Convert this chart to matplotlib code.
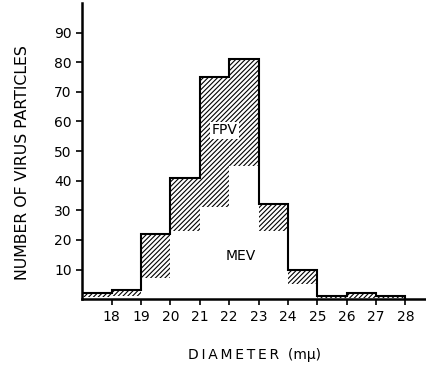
import matplotlib.pyplot as plt
import numpy as np

# diameter bins (m-mu), 17-18 ... 27-28
edges = np.arange(17, 29)
# total counts (FPV, top of hatched region) and MEV counts (white region)
fpv = np.array([2, 3, 22, 41, 75, 81, 32, 10, 1, 2, 1])
mev = np.array([0.7, 1, 7, 23, 31, 45, 23, 5, 0.5, 0.5, 0.3])

xticks = np.arange(18, 29)
yticks = np.arange(10, 100, 10)

plt.rcParams['hatch.linewidth'] = 0.8

fig = plt.figure(figsize=(4.26, 3.73), dpi=100)
ax = fig.add_axes([0.193, 0.198, 0.807, 0.794])

# hatched part between MEV and FPV
ax.bar(edges[:-1], fpv - mev, bottom=mev, width=1, align='edge',
       facecolor='white', edgecolor='black', hatch='///////', linewidth=0)
# outer outline
ax.stairs(fpv, edges, baseline=0, color='black', linewidth=1.5)

ax.text(21.85, 57, 'FPV', ha='center', va='center', fontsize=10,
        bbox=dict(facecolor='white', edgecolor='none', pad=1))
ax.text(22.4, 14.5, 'MEV', ha='center', va='center', fontsize=10)

ax.set_xlim(17, 28.7)
ax.set_ylim(0, 100)
ax.set_xticks(xticks)
ax.set_yticks(yticks)
ax.tick_params(direction='out', length=4, width=1.2, labelsize=10)

ax.spines['top'].set_visible(False)
ax.spines['right'].set_visible(False)
ax.spines['left'].set_linewidth(1.8)
ax.spines['bottom'].set_linewidth(1.8)

ax.set_ylabel('NUMBER OF VIRUS PARTICLES', fontsize=11.3)
ax.yaxis.set_label_coords(-0.152, 0.46)
ax.set_xlabel('D\u2009I\u2009A\u2009M\u2009E\u2009T\u2009E\u2009R  (mμ)', fontsize=10)
ax.xaxis.set_label_coords(0.5, -0.165)

fig.savefig('out.png', dpi=100)
